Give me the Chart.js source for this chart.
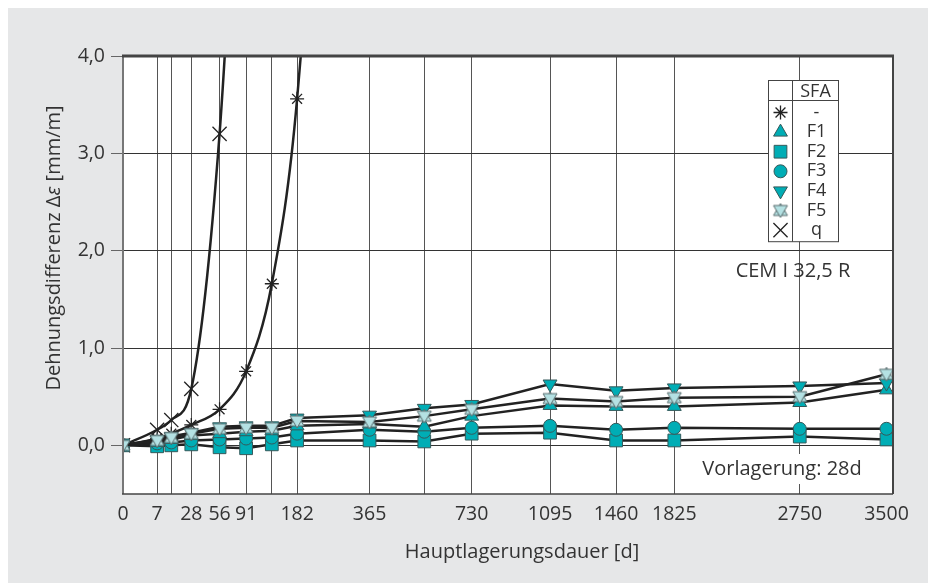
<!DOCTYPE html>
<html>
<head>
<meta charset="utf-8">
<script src="https://cdn.jsdelivr.net/npm/chart.js@4.4.0/dist/chart.umd.min.js"></script>
<style>
html, body { margin: 0; padding: 0; background: #fff; }
#wrap { width: 928px; height: 583px; }
</style>
</head>
<body>
<div id="wrap"><canvas id="myChart" width="928" height="583"></canvas></div>
<script>
// storage age in days (x), strain difference in mm/m (y)
var DAYS = [0, 7, 14, 28, 56, 91, 133, 182, 365, 545, 730, 1095, 1460, 1825, 2750, 3500];
var TICK_DAYS = [0, 7, 14, 28, 56, 91, 133, 182, 365, 545, 730, 1095, 1460, 1825, 2750, 3500];
var TICK_LABELS = ['0', '7', '', '28', '56', '91', '', '182', '365', '', '730', '1095', '1460', '1825', '2750', '3500'];
var Y_TICKS = [0, 1, 2, 3, 4];

var F1 = [0, 0.03, 0.06, 0.10, 0.12, 0.14, 0.15, 0.20, 0.22, 0.19, 0.30, 0.41, 0.40, 0.40, 0.44, 0.57];
var F2 = [0, -0.01, 0.00, 0.01, -0.02, -0.03, 0.01, 0.05, 0.05, 0.04, 0.12, 0.13, 0.05, 0.05, 0.09, 0.06];
var F3 = [0, 0.02, 0.03, 0.05, 0.06, 0.07, 0.08, 0.12, 0.16, 0.14, 0.18, 0.20, 0.16, 0.18, 0.17, 0.17];
var F4 = [0, 0.06, 0.09, 0.13, 0.19, 0.20, 0.20, 0.28, 0.31, 0.38, 0.42, 0.63, 0.56, 0.59, 0.61, 0.64];
var F5 = [0, 0.05, 0.08, 0.12, 0.17, 0.18, 0.18, 0.25, 0.24, 0.30, 0.37, 0.48, 0.45, 0.49, 0.50, 0.73];

// without SFA and quartz reference, both leave the chart upwards
var NONE_DAYS = [0, 7, 14, 28, 56, 91, 133, 182, 365];
var NONE = [0, 0.07, 0.12, 0.21, 0.37, 0.76, 1.66, 3.56, 15];
var Q_DAYS = [0, 7, 14, 28, 56, 91];
var Q = [0, 0.16, 0.26, 0.58, 3.2, 8];

var TEAL = '#00adb5';
var TEAL_EDGE = '#35595a';
var LIGHT = '#b4e1e3';
var INK = '#222';
var TEXT = '#333';
var FONT = "'Open Sans', sans-serif";

function pairs(xs, ys) {
    var out = [];
    for (var i = 0; i < ys.length; i++) {
        out.push({x: xs[i], y: ys[i]});
    }
    return out;
}

// square-root time axis
class SqrtScale extends Chart.LinearScale {
    getPixelForValue(value) {
        if (value === null || isNaN(value)) return NaN;
        var t = Math.sqrt(Math.max(value - this.min, 0) / (this.max - this.min));
        return this.getPixelForDecimal(t);
    }
    getValueForPixel(pixel) {
        var t = this.getDecimalForPixel(pixel);
        return this.min + t * t * (this.max - this.min);
    }
}
SqrtScale.id = 'sqrt';
SqrtScale.defaults = {};
Chart.register(SqrtScale);

// F5 marker: light triangle pair
var f5Mark = document.createElement('canvas');
f5Mark.width = 18;
f5Mark.height = 18;
(function () {
    var c = f5Mark.getContext('2d');
    c.fillStyle = LIGHT;
    c.strokeStyle = '#5a6d6e';
    c.lineWidth = 1;
    c.beginPath();
    c.moveTo(9, 2); c.lineTo(16, 14); c.lineTo(2, 14); c.closePath();
    c.fill(); c.stroke();
    c.beginPath();
    c.moveTo(2, 4); c.lineTo(16, 4); c.lineTo(9, 16); c.closePath();
    c.fill(); c.stroke();
})();

function tealSet(label, values, style, radius, rotation) {
    return {
        label: label,
        data: pairs(DAYS, values),
        borderColor: INK,
        borderWidth: 2.5,
        tension: 0,
        pointStyle: style,
        pointRadius: radius,
        pointRotation: rotation || 0,
        pointBackgroundColor: TEAL,
        pointBorderColor: TEAL_EDGE,
        pointBorderWidth: 1,
        pointHoverRadius: radius
    };
}

var datasets = [
    tealSet('F5', F5, f5Mark, 9),
    tealSet('F4', F4, 'triangle', 8, 180),
    tealSet('F1', F1, 'triangle', 8),
    tealSet('F3', F3, 'circle', 6.5),
    tealSet('F2', F2, 'rect', 9),
    {
        label: '-',
        data: pairs(NONE_DAYS, NONE),
        borderColor: INK,
        borderWidth: 2.5,
        cubicInterpolationMode: 'monotone',
        pointStyle: 'star',
        pointRadius: 7,
        pointBorderColor: INK,
        pointBackgroundColor: INK,
        pointBorderWidth: 1.3
    },
    {
        label: 'q',
        data: pairs(Q_DAYS, Q),
        borderColor: INK,
        borderWidth: 2.5,
        cubicInterpolationMode: 'monotone',
        pointStyle: 'crossRot',
        pointRadius: 10,
        pointBorderColor: INK,
        pointBackgroundColor: INK,
        pointBorderWidth: 1.3
    }
];

var LEGEND_ROWS = [
    {text: '-', style: 'star', radius: 7, fill: INK, edge: INK, rot: 0},
    {text: 'F1', style: 'triangle', radius: 8, fill: TEAL, edge: TEAL_EDGE, rot: 0},
    {text: 'F2', style: 'rect', radius: 9, fill: TEAL, edge: TEAL_EDGE, rot: 0},
    {text: 'F3', style: 'circle', radius: 6.5, fill: TEAL, edge: TEAL_EDGE, rot: 0},
    {text: 'F4', style: 'triangle', radius: 8, fill: TEAL, edge: TEAL_EDGE, rot: 180},
    {text: 'F5', style: f5Mark, radius: 9, fill: LIGHT, edge: TEAL_EDGE, rot: 0},
    {text: 'q', style: 'crossRot', radius: 10, fill: INK, edge: INK, rot: 0}
];

var backdrop = {
    id: 'backdrop',
    beforeDraw: function (chart) {
        var c = chart.ctx, a = chart.chartArea;
        c.save();
        c.fillStyle = '#fff';
        c.fillRect(0, 0, chart.width, chart.height);
        c.fillStyle = '#e6e7e8';
        c.fillRect(8, 8, chart.width - 8, chart.height - 8);
        c.fillStyle = '#fff';
        c.fillRect(a.left, a.top, a.right - a.left, a.bottom - a.top);
        c.restore();
    }
};

var extras = {
    id: 'extras',
    afterDraw: function (chart) {
        var c = chart.ctx, a = chart.chartArea;
        c.save();

        // frame
        c.strokeStyle = '#777';
        c.lineWidth = 2;
        c.beginPath(); c.moveTo(a.left, a.top); c.lineTo(a.left, a.bottom); c.stroke();
        c.strokeStyle = '#444';
        c.lineWidth = 1.5;
        c.beginPath(); c.moveTo(a.left - 1, a.bottom); c.lineTo(a.right, a.bottom); c.stroke();
        c.lineWidth = 2;
        c.beginPath(); c.moveTo(a.right, a.bottom); c.lineTo(a.right, a.top); c.stroke();
        c.lineWidth = 3;
        c.beginPath(); c.moveTo(a.left - 1, a.top); c.lineTo(a.right + 1, a.top); c.stroke();

        // legend table
        var lx = 768.5, lw = 70, ly = 80.5, split = 792.5, head = 20, rowH = 19.6;
        var lh = head + rowH * LEGEND_ROWS.length + 4;
        c.fillStyle = '#fff';
        c.fillRect(lx, ly, lw, lh);
        c.strokeStyle = '#444';
        c.lineWidth = 1;
        c.strokeRect(lx, ly, lw, lh);
        c.beginPath();
        c.moveTo(split, ly); c.lineTo(split, ly + lh);
        c.moveTo(lx, ly + head); c.lineTo(lx + lw, ly + head);
        c.stroke();
        c.fillStyle = TEXT;
        c.font = '18px ' + FONT;
        c.textAlign = 'center';
        c.textBaseline = 'middle';
        c.fillText('SFA', (split + lx + lw) / 2, ly + head / 2 + 1);
        LEGEND_ROWS.forEach(function (r, i) {
            var y = ly + head + 12 + i * rowH;
            c.fillStyle = TEXT;
            c.fillText(r.text, (split + lx + lw) / 2 + 1, y);
            c.fillStyle = r.fill;
            c.strokeStyle = r.edge;
            c.lineWidth = r.style === 'star' || r.style === 'crossRot' ? 1.3 : 1;
            Chart.helpers.drawPoint(c, {pointStyle: r.style, radius: r.radius, rotation: r.rot, borderWidth: c.lineWidth}, (lx + split) / 2, y);
        });

        // notes
        c.fillStyle = TEXT;
        c.font = '20px ' + FONT;
        c.textAlign = 'center';
        c.fillText('CEM I 32,5 R', 793, 271);
        var note = 'Vorlagerung: 28d';
        var nw = c.measureText(note).width;
        c.fillStyle = '#fff';
        c.fillRect(782 - nw / 2 - 5, 454, nw + 10, 30);
        c.fillStyle = TEXT;
        c.fillText(note, 782, 469);

        // axis titles
        c.font = '20px ' + FONT;
        c.fillText('Hauptlagerungsdauer [d]', 522, 552);

        c.translate(54, 248);
        c.rotate(-Math.PI / 2);
        var p1 = 'Dehnungsdifferenz \u0394', p2 = '\u03b5', p3 = ' [mm/m]';
        var w1 = c.measureText(p1).width;
        c.font = 'italic 20px ' + FONT;
        var w2 = c.measureText(p2).width;
        c.font = '20px ' + FONT;
        var w3 = c.measureText(p3).width;
        var x0 = -(w1 + w2 + w3) / 2;
        c.textAlign = 'left';
        c.fillText(p1, x0, 0);
        c.font = 'italic 20px ' + FONT;
        c.fillText(p2, x0 + w1, 0);
        c.font = '20px ' + FONT;
        c.fillText(p3, x0 + w1 + w2, 0);

        c.restore();
    }
};

Chart.defaults.font.family = FONT;
Chart.defaults.font.size = 19.5;
Chart.defaults.color = TEXT;

const ctx = document.getElementById('myChart').getContext('2d');
const myChart = new Chart(ctx, {
    type: 'line',
    data: {datasets: datasets},
    plugins: [backdrop, extras],
    options: {
        responsive: false,
        animation: false,
        events: [],
        layout: {padding: {top: 56, right: 35, left: 0, bottom: 0}},
        plugins: {
            legend: {display: false},
            tooltip: {enabled: false}
        },
        scales: {
            x: {
                type: 'sqrt',
                min: 0,
                max: 3560,
                afterBuildTicks: function (scale) {
                    scale.ticks = TICK_DAYS.map(function (v) { return {value: v}; });
                },
                afterFit: function (scale) { scale.height = 89; },
                ticks: {
                    autoSkip: false,
                    maxRotation: 0,
                    padding: 9,
                    callback: function (value, index) { return TICK_LABELS[index]; }
                },
                grid: {
                    drawTicks: false,
                    lineWidth: 1,
                    color: function (c) {
                        return c.tick && (c.tick.value === 3500 || c.tick.value === 0) ? 'rgba(0,0,0,0)' : '#555';
                    }
                },
                border: {display: false}
            },
            y: {
                type: 'linear',
                min: -0.5,
                max: 4,
                afterBuildTicks: function (scale) {
                    scale.ticks = Y_TICKS.map(function (v) { return {value: v}; });
                },
                afterFit: function (scale) { scale.width = 123; },
                ticks: {
                    padding: 6,
                    callback: function (value) { return value.toFixed(1).replace('.', ','); }
                },
                grid: {
                    drawTicks: true,
                    tickLength: 12,
                    tickColor: '#666',
                    lineWidth: 1,
                    color: '#333'
                },
                border: {display: false}
            }
        }
    }
});
</script>
</body>
</html>
